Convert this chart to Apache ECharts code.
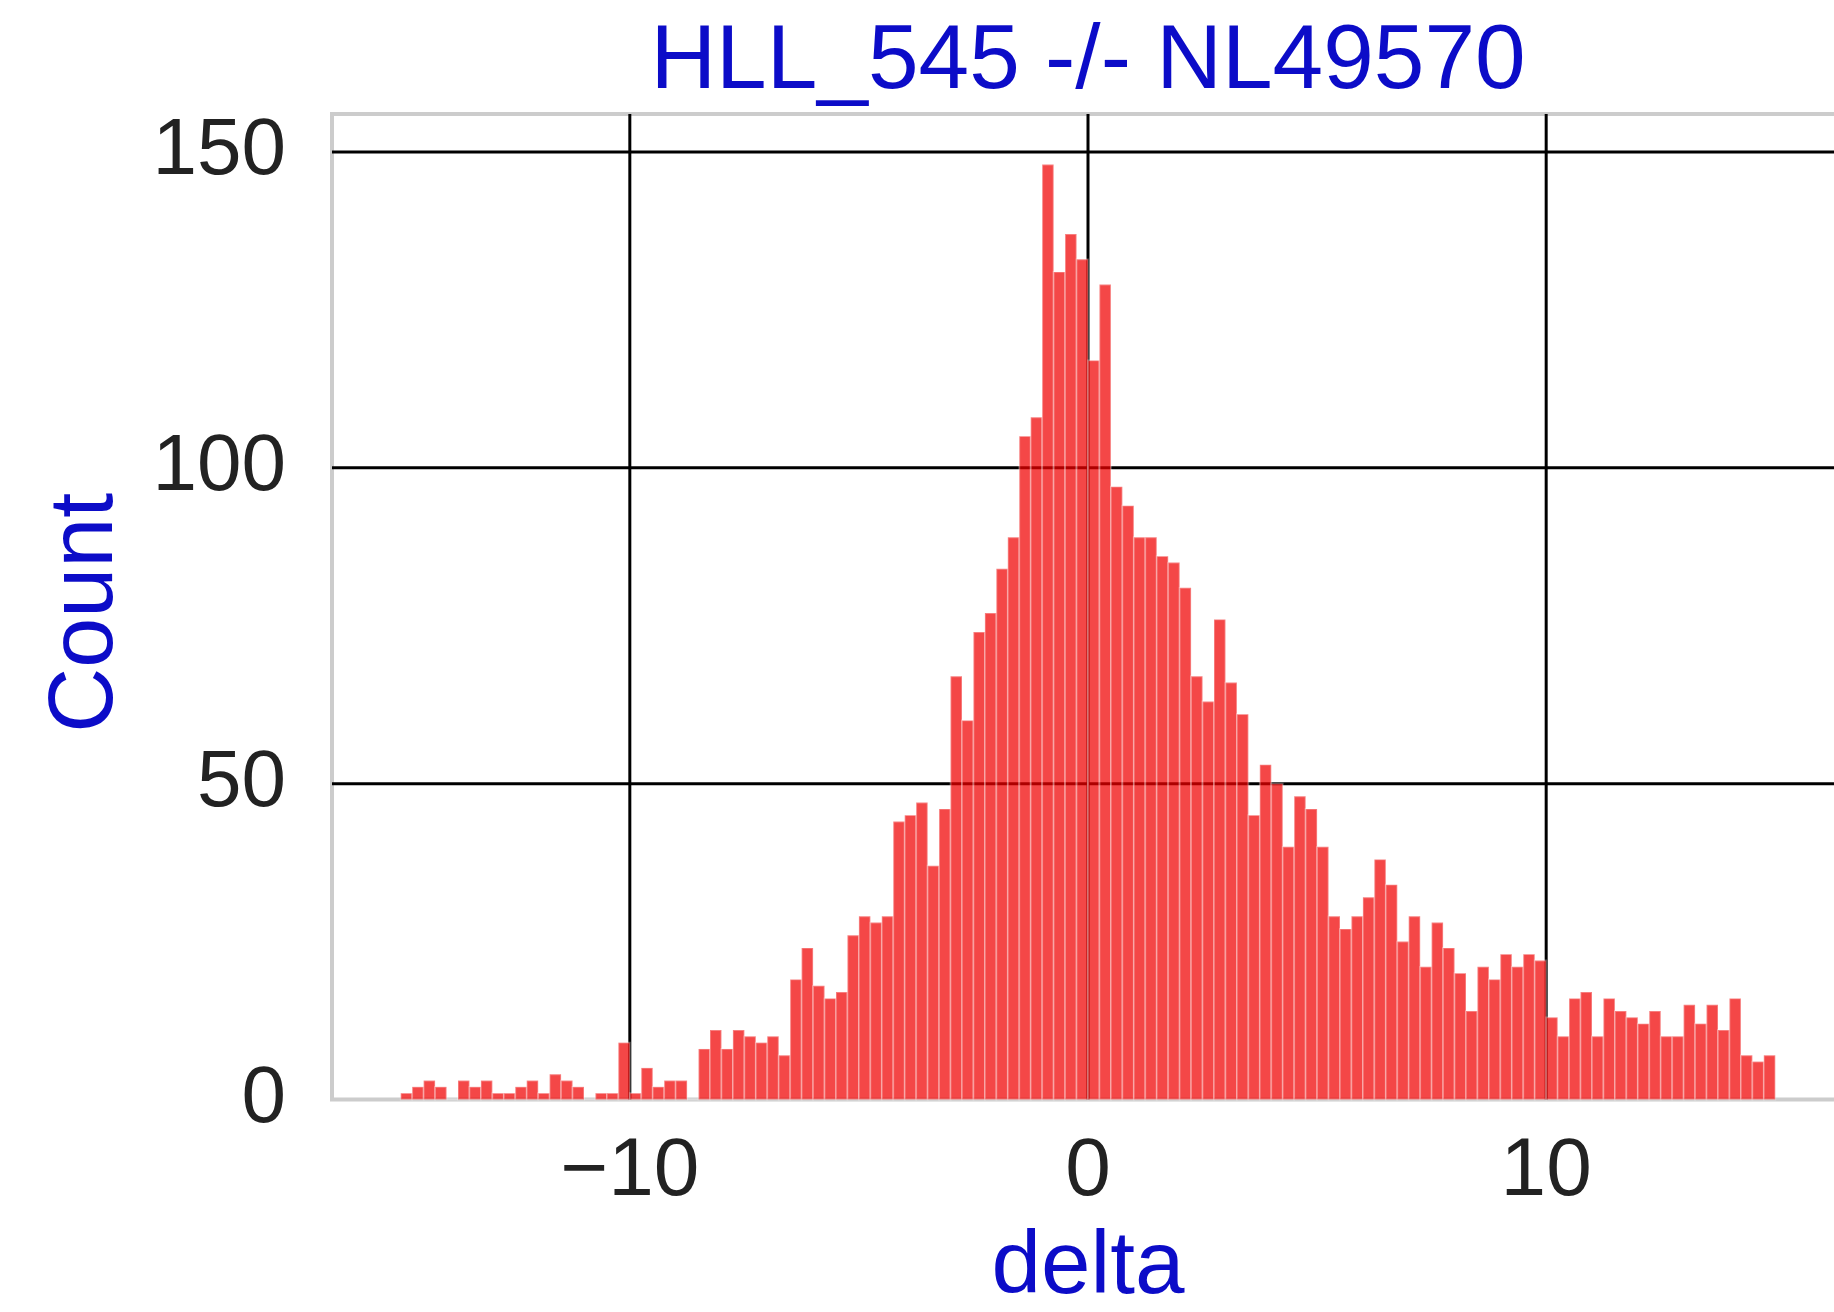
<!DOCTYPE html>
<html><head><meta charset="utf-8">
<script src="https://cdn.jsdelivr.net/npm/echarts@6/dist/echarts.min.js"></script>
<style>html,body{margin:0;padding:0;background:#fff}#c{width:1834px;height:1312px}</style>
</head><body><div id="c"></div>
<script>
// ---- data ----
const chartTitle = 'HLL_545 -/- NL49570';
const xName = 'delta';
const yName = 'Count';
const binStart = -15;
const binWidth = 0.25;
const counts = [
  1, 2, 3, 2, 0, 3, 2, 3, 1, 1,
  2, 3, 1, 4, 3, 2, 0, 1, 1, 9,
  1, 5, 2, 3, 3, 0, 8, 11, 8, 11,
  10, 9, 10, 7, 19, 24, 18, 16, 17, 26,
  29, 28, 29, 44, 45, 47, 37, 46, 67, 60,
  74, 77, 84, 89, 105, 108, 148, 131, 137, 133,
  117, 129, 97, 94, 89, 89, 86, 85, 81, 67,
  63, 76, 66, 61, 45, 53, 50, 40, 48, 46,
  40, 29, 27, 29, 32, 38, 34, 25, 29, 21,
  28, 24, 20, 14, 21, 19, 23, 21, 23, 22,
  13, 10, 16, 17, 10, 16, 14, 13, 12, 14,
  10, 10, 15, 12, 15, 11, 16, 7, 6, 7
];
const xTickValues = [-10, 0, 10];
const yTickValues = [0, 50, 100, 150];
const xRange = [-16.5, 16.5];
const yRange = [0, 156];

// ---- build ----
const bins = counts.map((c, i) => [binStart + i * binWidth, binStart + (i + 1) * binWidth, c]);
const vGrid = xTickValues.map(v => [v, yRange[0]]);
const hGrid = yTickValues.filter(v => v > 0).map(v => [xRange[0], v]);
const FONT = '"Liberation Sans", Arial, sans-serif';
const BLUE = '#0c0cc8';

const chart = echarts.init(document.getElementById('c'), null, {renderer: 'canvas'});
chart.setOption({
  animation: false,
  backgroundColor: '#ffffff',
  grid: {
    left: 332, top: 114, width: 1512, height: 985.5,
    outerBoundsMode: 'none', containLabel: false,
    show: true, borderColor: '#cccccc', borderWidth: 4, backgroundColor: '#ffffff'
  },
  graphic: [{
    type: 'text', x: 1088, y: 63, z: 10,
    style: {text: chartTitle, font: '91px ' + FONT, fill: BLUE, align: 'center', verticalAlign: 'middle'}
  }],
  xAxis: {
    type: 'value', min: xRange[0], max: xRange[1],
    axisLine: {show: false}, axisTick: {show: false}, splitLine: {show: false},
    axisLabel: {
      customValues: xTickValues, fontSize: 82, fontFamily: FONT, color: '#222222', margin: 32,
      formatter: v => (v < 0 ? '\u2212' + Math.abs(v) : String(v))
    },
    name: xName, nameLocation: 'middle', nameGap: 124,
    nameTextStyle: {fontSize: 89, fontFamily: FONT, color: BLUE}
  },
  yAxis: {
    type: 'value', min: yRange[0], max: yRange[1],
    axisLine: {show: false}, axisTick: {show: false}, splitLine: {show: false},
    axisLabel: {customValues: yTickValues, fontSize: 80, fontFamily: FONT, color: '#222222', margin: 46},
    name: yName, nameLocation: 'middle', nameGap: 200,
    nameTextStyle: {fontSize: 90, fontFamily: FONT, color: BLUE, padding: [0, 12, 0, 0]}
  },
  series: [
    {
      type: 'custom', z: 2, silent: true, data: vGrid, encode: {x: 0, y: 1},
      renderItem(params, api) {
        const a = api.coord([api.value(0), yRange[1]]);
        const b = api.coord([api.value(0), yRange[0]]);
        return {type: 'line', shape: {x1: a[0], y1: a[1], x2: b[0], y2: b[1]},
          style: {stroke: '#000000', lineWidth: 3}};
      }
    },
    {
      type: 'custom', z: 2, silent: true, data: hGrid, encode: {x: 0, y: 1},
      renderItem(params, api) {
        const a = api.coord([xRange[0], api.value(1)]);
        const b = api.coord([xRange[1], api.value(1)]);
        return {type: 'line', shape: {x1: a[0], y1: a[1], x2: b[0], y2: b[1]},
          style: {stroke: '#000000', lineWidth: 3}};
      }
    },
    {
      type: 'custom', z: 3, data: bins, encode: {x: [0, 1], y: 2},
      renderItem(params, api) {
        const p0 = api.coord([api.value(0), api.value(2)]);
        const p1 = api.coord([api.value(1), 0]);
        return {type: 'rect',
          shape: {x: p0[0], y: p0[1], width: p1[0] - p0[0], height: p1[1] - p0[1]},
          style: {fill: 'rgba(240,0,0,0.72)', stroke: 'rgba(255,255,255,0.3)', lineWidth: 1.8}};
      }
    }
  ]
});
</script></body></html>
